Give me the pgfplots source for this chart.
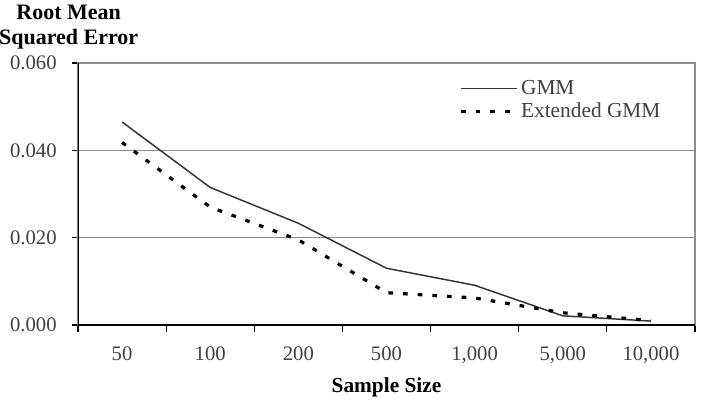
\documentclass[border=0pt]{standalone}
\usepackage{fontspec}
\setmainfont{Liberation Serif}
\usepackage{pgfplots}
\pgfplotsset{compat=1.18}
\definecolor{lineg}{HTML}{333333}
\definecolor{gridg}{HTML}{8C8C8C}
\definecolor{txtg}{HTML}{404040}
\begin{document}
\begin{tikzpicture}[font=\fontsize{15.5}{18}\selectfont]
\useasboundingbox (-58.5pt,-60pt) rectangle (468pt,243.75pt);
\begin{axis}[
  at={(0pt,0pt)}, anchor=south west,
  width=462.75pt, height=196.5pt, scale only axis,
  xmin=-0.5, xmax=6.5, ymin=0, ymax=0.06,
  scaled y ticks=false,
  xtick={0,...,6},
  xticklabels={50,100,200,500,{1,000},{5,000},{10,000}},
  minor xtick={-0.5,0.5,...,6.5},
  ytick={0,0.02,0.04,0.06},
  yticklabels={0.000,0.020,0.040,0.060},
  xtick pos=bottom, ytick pos=left,
  tick align=outside,
  major x tick style={draw=none},
  minor tick length=5pt, major tick length=4.5pt,
  tick style={black, line width=0.8pt},
  ymajorgrids,
  grid style={gridg, line width=1pt},
  axis line style={gridg, line width=1pt},
  tick label style={txtg, font=\fontsize{15.5}{18}\selectfont},
  xticklabel style={yshift=-8pt},
  yticklabel style={xshift=-8pt},
  xlabel={\bfseries Sample Size},
  xlabel style={yshift=-4pt, black, font=\fontsize{16}{18}\selectfont},
  every axis y label/.style={at={(rel axis cs:0,1)}, anchor=south, xshift=-7pt, yshift=7pt, align=center, font=\fontsize{16.5}{18.75}\selectfont\bfseries},
  ylabel={Root Mean\\Squared Error},
  legend style={at={(rel axis cs:0.611,0.955)}, anchor=north west, draw=none, fill=none, font=\fontsize{16}{18}\selectfont, text=txtg, row sep=1pt},
  legend cell align=left,
  legend image code/.code={\draw[#1] (0pt,0pt) -- (42pt,0pt);},
]
\addplot[lineg, line width=1.1pt] coordinates {
 (0,0.0465) (1,0.0315) (2,0.0233) (3,0.0130) (4,0.0091) (5,0.0021) (6,0.0009)};
\addlegendentry{GMM}
\addplot[black, line width=2.4pt, dash pattern=on 3.5pt off 7.5pt] coordinates {
 (0,0.0418) (1,0.0270) (2,0.0195) (3,0.0074) (4,0.0062) (5,0.0028) (6,0.0010)};
\addlegendentry{Extended GMM}
\draw[black, line width=1pt] (rel axis cs:0,1) -- (rel axis cs:0,0) -- (rel axis cs:1,0);
\end{axis}
\end{tikzpicture}
\end{document}
